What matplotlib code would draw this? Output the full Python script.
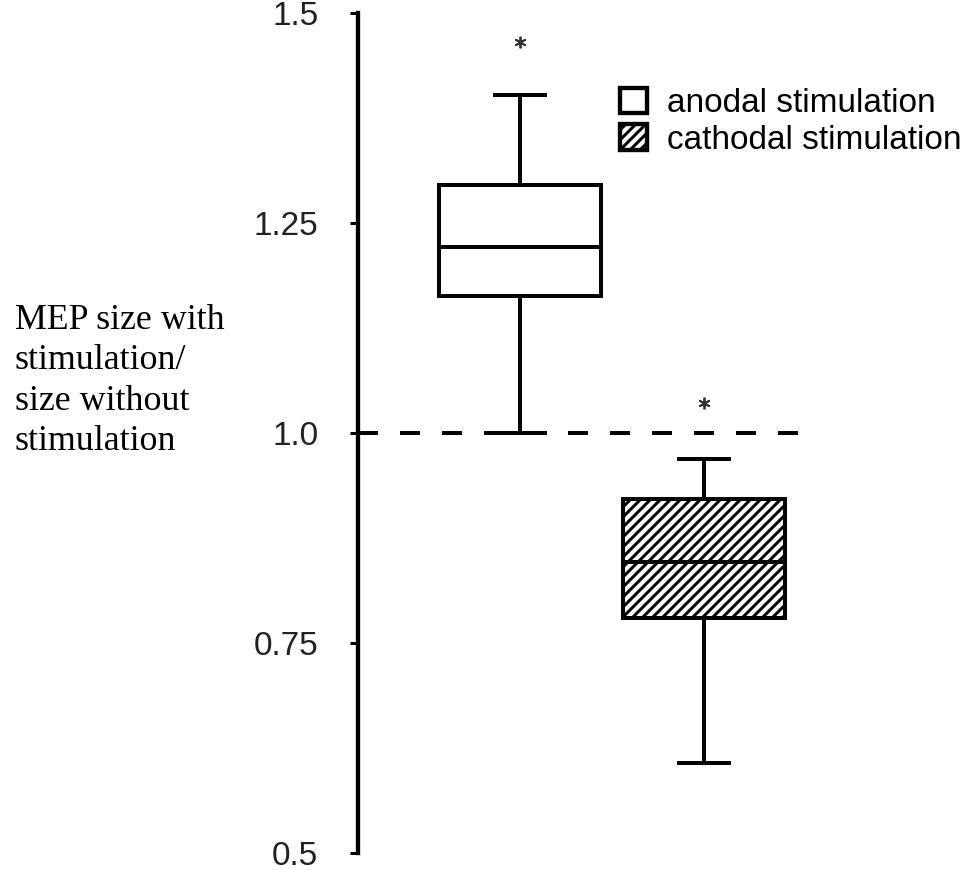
import matplotlib
matplotlib.use('Agg')
import matplotlib.pyplot as plt
from matplotlib.patches import Patch

# MEP ratio summary per stimulation type
conditions = ['anodal stimulation', 'cathodal stimulation']
whislo = [1.0, 0.607]
q1 = [1.163, 0.780]
med = [1.221, 0.846]
q3 = [1.295, 0.921]
whishi = [1.402, 0.969]
hatches = ['', '////']

# significance markers above each box
sig_y = [1.465, 1.036]

yticks = [0.5, 0.75, 1.0, 1.25, 1.5]
ytick_labels = ['0.5', '0.75', '1.0', '1.25', '1.5']
baseline = 1.0

plt.rcParams['font.family'] = ['Liberation Sans', 'DejaVu Sans']
plt.rcParams['hatch.linewidth'] = 1.8

dpi = 120
fig = plt.figure(figsize=(974 / dpi, 870 / dpi), dpi=dpi)
ax = fig.add_axes([358 / 974, 17 / 870, 616 / 974, 840 / 870])

positions = [1, 2]
stats = []
for i, name in enumerate(conditions):
    stats.append(dict(label=name, whislo=whislo[i], q1=q1[i], med=med[i],
                      q3=q3[i], whishi=whishi[i], fliers=[]))

lw = 2.4
bp = ax.bxp(stats, positions=positions, widths=0.88, capwidths=0.27,
            patch_artist=True, showfliers=False,
            boxprops=dict(linewidth=lw, edgecolor='black', facecolor='white'),
            medianprops=dict(linewidth=lw, color='black'),
            whiskerprops=dict(linewidth=lw, color='black'),
            capprops=dict(linewidth=lw, color='black'))
for box, h in zip(bp['boxes'], hatches):
    box.set_hatch(h)

# dashed reference line at ratio 1
ax.hlines(baseline, 0.1196, 2.52, colors='black', linewidth=lw,
          linestyles=(0, (5, 5.5)), zorder=0)

ax.plot(positions, sig_y, ls='none', marker=(6, 2, 0), ms=7, mew=1.1,
        color='#333333')

ax.set_xlim(0.1196, 3.467)
ax.set_ylim(0.5, 1.5)
ax.set_yticks(yticks)
ax.set_yticklabels(ytick_labels)
ax.tick_params(axis='y', direction='out', length=4.8, width=1.8, pad=19,
               labelsize=20, labelcolor='#222222')
ax.tick_params(axis='x', bottom=False, labelbottom=False)
for side in ['top', 'right', 'bottom']:
    ax.spines[side].set_visible(False)
ax.spines['left'].set_linewidth(2.6)
ax.patch.set_alpha(0)

ax.set_ylabel('MEP size with\nstimulation/\nsize without\nstimulation',
              rotation=0, ha='left', va='center', fontsize=21.5,
              family=['Liberation Serif', 'DejaVu Serif'], linespacing=1.3)
ax.yaxis.set_label_coords(-0.557, 0.562)

handles = [Patch(facecolor='white', edgecolor='black', linewidth=2.6,
                 hatch=h) for h in hatches]
ax.legend(handles, conditions, loc='upper left',
          bbox_to_anchor=(620 / 974, 1 - 88 / 870),
          bbox_transform=fig.transFigure, frameon=False, fontsize=20,
          handlelength=0.8, handleheight=0.8, handletextpad=0.6,
          labelspacing=0.15, borderpad=0, borderaxespad=0)

fig.savefig('out.png', dpi=dpi)
